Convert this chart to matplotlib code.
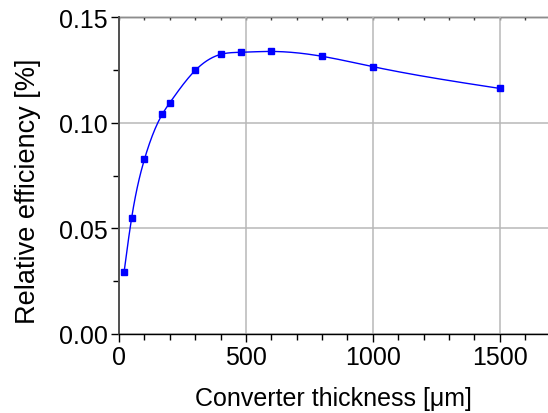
import numpy as np
import matplotlib
matplotlib.use("Agg")
import matplotlib.pyplot as plt
from matplotlib.ticker import MultipleLocator, FormatStrFormatter, NullFormatter

plt.rcParams["font.family"] = ["Liberation Sans", "DejaVu Sans"]

# data
thickness = [20, 50, 100, 170, 200, 300, 400, 480, 600, 800, 1000, 1500]
efficiency = [0.0293, 0.0551, 0.0826, 0.1039, 0.1094, 0.1247, 0.1323,
              0.1333, 0.1337, 0.1314, 0.1265, 0.1162]


def natural_spline(x, y, n=400):
    """Smooth curve through the points (natural cubic spline)."""
    x = np.asarray(x, float)
    y = np.asarray(y, float)
    h = np.diff(x)
    m = len(x)
    A = np.zeros((m, m))
    b = np.zeros(m)
    A[0, 0] = A[-1, -1] = 1.0
    for i in range(1, m - 1):
        A[i, i - 1] = h[i - 1]
        A[i, i] = 2 * (h[i - 1] + h[i])
        A[i, i + 1] = h[i]
        b[i] = 6 * ((y[i + 1] - y[i]) / h[i] - (y[i] - y[i - 1]) / h[i - 1])
    M = np.linalg.solve(A, b)
    xs = np.linspace(x[0], x[-1], n)
    idx = np.clip(np.searchsorted(x, xs) - 1, 0, m - 2)
    x0, x1 = x[idx], x[idx + 1]
    hh = x1 - x0
    t0, t1 = x1 - xs, xs - x0
    ys = (M[idx] * t0**3 + M[idx + 1] * t1**3) / (6 * hh) \
        + (y[idx] / hh - M[idx] * hh / 6) * t0 \
        + (y[idx + 1] / hh - M[idx + 1] * hh / 6) * t1
    return xs, ys


fig = plt.figure(figsize=(5.48, 4.14), dpi=100)
ax = fig.add_axes([119 / 548, 1 - 335 / 414, 1 - 119 / 548, (335 - 18) / 414])

xs, ys = natural_spline(thickness, efficiency)
ax.plot(xs, ys, color="#0000ff", lw=1.0, zorder=3)
ax.plot(thickness, efficiency, ls="none", marker="s", ms=4.8,
        color="#0000ff", zorder=4)

ax.set_xlim(0, 1690)
ax.set_ylim(0, 0.15)
ax.xaxis.set_major_locator(MultipleLocator(500))
ax.xaxis.set_minor_locator(MultipleLocator(100))
ax.yaxis.set_major_locator(MultipleLocator(0.05))
ax.yaxis.set_minor_locator(MultipleLocator(0.025))
ax.yaxis.set_major_formatter(FormatStrFormatter("%.2f"))

ax.grid(True, which="major", color="#b8b8b8", lw=1.1, zorder=1)
ax.set_axisbelow(True)

ax.spines["right"].set_visible(False)
ax.spines["top"].set_visible(False)
ax.spines["left"].set_color("#505050")
ax.spines["left"].set_linewidth(1.4)
ax.spines["bottom"].set_linewidth(1.0)

ax.tick_params(axis="both", which="major", direction="out", length=6,
               width=1.0, labelsize=18, pad=2)
ax.tick_params(axis="both", which="minor", direction="out", length=4,
               width=1.0)

# top axis: small inward ticks only
top = ax.secondary_xaxis("top")
top.xaxis.set_major_locator(MultipleLocator(100))
top.xaxis.set_major_formatter(NullFormatter())
top.tick_params(direction="in", length=2, width=1.0, color="#404040")
top.spines["top"].set_linewidth(1.0)

ax.set_xlabel("Converter thickness [\u03bcm]", fontsize=18, labelpad=12)
ax.set_ylabel("Relative efficiency [%]", fontsize=19.5)
ax.yaxis.set_label_coords(-0.182, 0.454)

fig.savefig("out.png", dpi=100)
